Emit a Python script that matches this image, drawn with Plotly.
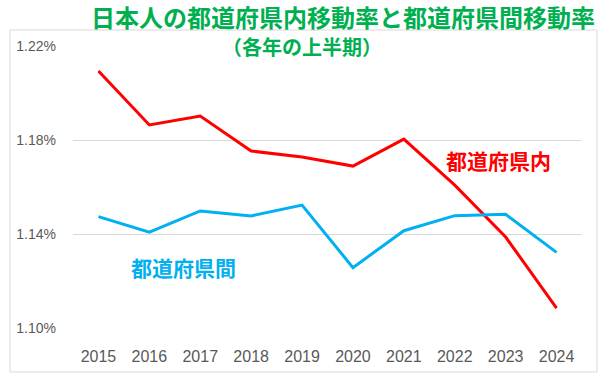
import plotly.graph_objects as go

years = [2015, 2016, 2017, 2018, 2019, 2020, 2021, 2022, 2023, 2024]
intra_pref = [1.2094, 1.1864, 1.1902, 1.1753, 1.1728, 1.1689, 1.1804, 1.1608, 1.1387, 1.1085]
inter_pref = [1.1474, 1.1408, 1.1498, 1.1477, 1.1523, 1.1257, 1.1414, 1.1478, 1.1484, 1.1322]
y_ticks = [1.10, 1.14, 1.18, 1.22]
y_tick_text = [f"{v:.2f}%" for v in y_ticks]

title_line1 = "日本人の都道府県内移動率と都道府県間移動率"
title_line2 = "（各年の上半期）"
label_intra = "都道府県内"
label_inter = "都道府県間"

RED = "#FF0000"
BLUE = "#00B0F0"
GREEN = "#00B050"
GRID = "#D9D9D9"
TXT = "#595959"
JP = "Noto Sans CJK JP"

fig = go.Figure()
fig.add_trace(go.Scatter(x=years, y=intra_pref, mode="lines",
                         line=dict(color=RED, width=3), name=label_intra))
fig.add_trace(go.Scatter(x=years, y=inter_pref, mode="lines",
                         line=dict(color=BLUE, width=3), name=label_inter))

L, R, T, B = 73, 27, 46, 50
W, H = 609, 378
pw, ph = W - L - R, H - T - B

def px(x):
    return (x - L) / pw

def py(y):
    return (H - B - y) / ph

# chart-area border
fig.add_shape(type="rect", xref="paper", yref="paper",
              x0=px(10), x1=px(597), y0=py(372), y1=py(30),
              line=dict(color=GRID, width=1), layer="above")

fig.add_annotation(text=title_line1, xref="paper", yref="paper",
                   x=px(343), y=py(17), showarrow=False, xanchor="center", yanchor="middle",
                   font=dict(family=JP, size=24, color=GREEN, weight="bold"))
fig.add_annotation(text=title_line2, xref="paper", yref="paper",
                   x=px(302), y=py(46), showarrow=False, xanchor="center", yanchor="middle",
                   font=dict(family=JP, size=20, color=GREEN, weight="bold"))

fig.add_annotation(text=label_intra, x=2022.86, y=1.1716, showarrow=False,
                   font=dict(family=JP, size=21, color=RED, weight="bold"))
fig.add_annotation(text=label_inter, x=2016.67, y=1.1260, showarrow=False,
                   font=dict(family=JP, size=21, color=BLUE, weight="bold"))

fig.update_layout(
    width=W, height=H,
    margin=dict(l=L, r=R, t=T, b=B, pad=0),
    paper_bgcolor="white", plot_bgcolor="white",
    showlegend=False,
    font=dict(family="Liberation Sans", color=TXT),
)
fig.update_xaxes(range=[2014.5, 2024.5], tickvals=years, showgrid=False,
                 zeroline=False, showline=False, ticks="",
                 ticklabelstandoff=17, tickfont=dict(size=16, color=TXT))
fig.update_yaxes(range=[1.10, 1.22], tickvals=y_ticks, ticktext=y_tick_text,
                 showgrid=True, gridcolor=GRID, gridwidth=1, zeroline=False,
                 showline=False, ticks="", ticklabelstandoff=16,
                 tickfont=dict(size=14, color=TXT))

fig.write_html("out.html", config={"displayModeBar": False},
               post_script="document.body.style.margin='0';document.body.style.overflow='hidden';")
